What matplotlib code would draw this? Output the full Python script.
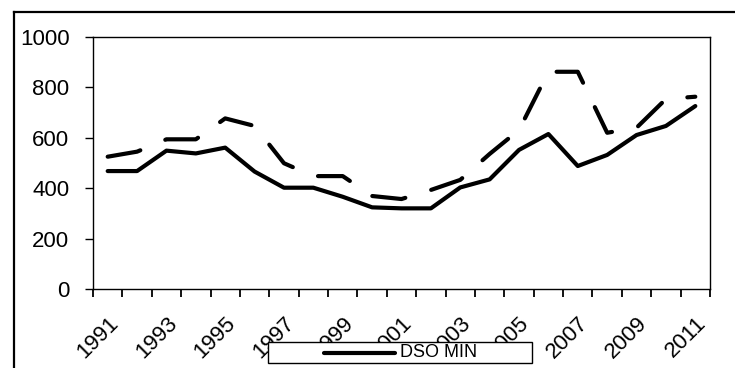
import matplotlib
matplotlib.use("Agg")
import matplotlib.pyplot as plt
from matplotlib.lines import Line2D
from matplotlib.patches import Rectangle
import numpy as np

plt.rcParams['font.family'] = ['Liberation Sans', 'DejaVu Sans']

years = list(range(1991, 2012))
dso_min = [468, 468, 549, 538, 561, 466, 402, 402, 366, 324, 320,
           320, 403, 435, 552, 615, 488, 532, 611, 647, 726]
dso_max = [525, 545, 594, 594, 677, 647, 499, 448, 448, 369, 357,
           393, 433, 536, 631, 862, 862, 620, 640, 754, 763]
label_years = [str(y) for y in years[::2]]

fig = plt.figure(figsize=(7.35, 3.68), dpi=100)
ax = fig.add_axes([93/735, 1-289/368, (710-93)/735, (289-37)/368])

x = np.arange(len(years)) + 0.5
ax.plot(x, dso_max, color='black', lw=3.0, linestyle=(0, (8.0, 6.5)),
        dash_capstyle='round', solid_joinstyle='round', zorder=3)
ax.plot(x, dso_min, color='black', lw=3.0, solid_capstyle='round',
        solid_joinstyle='round', zorder=4)

ax.set_xlim(0, len(years))
ax.set_ylim(0, 1000)
ax.set_yticks(range(0, 1001, 200))
ax.tick_params(axis='y', direction='out', length=6, width=1, pad=11, labelsize=16)
ax.set_xticks(np.arange(0, len(years) + 1))
ax.set_xticklabels([])
ax.tick_params(axis='x', which='major', direction='out', length=6, width=1.3)
ax.set_xticks(x[::2], minor=True)
ax.set_xticklabels(label_years, minor=True, rotation=45, ha='right',
                   rotation_mode='anchor', fontsize=16)
ax.tick_params(axis='x', which='minor', length=0, pad=17)
for s in ax.spines.values():
    s.set_linewidth(1.0)

# outer frame (top and left)
fig.add_artist(Line2D([14/735, 14/735], [0, 1-12/368], transform=fig.transFigure,
                      color='black', lw=1.6))
fig.add_artist(Line2D([14/735, 1], [1-12/368, 1-12/368], transform=fig.transFigure,
                      color='black', lw=1.6))

# legend box
fig.add_artist(Rectangle((268/735, 1-363/368), 264/735, 21/368,
                         transform=fig.transFigure, facecolor='white',
                         edgecolor='black', lw=1.0, zorder=10))
fig.add_artist(Line2D([324/735, 395/735], [1-352.5/368, 1-352.5/368],
                      transform=fig.transFigure, color='black', lw=3.0,
                      solid_capstyle='round', zorder=11))
fig.text(400/735, 1-352.5/368, 'DSO MIN', ha='left', va='center',
         fontsize=13, zorder=12)

fig.savefig('out.png', dpi=100)
